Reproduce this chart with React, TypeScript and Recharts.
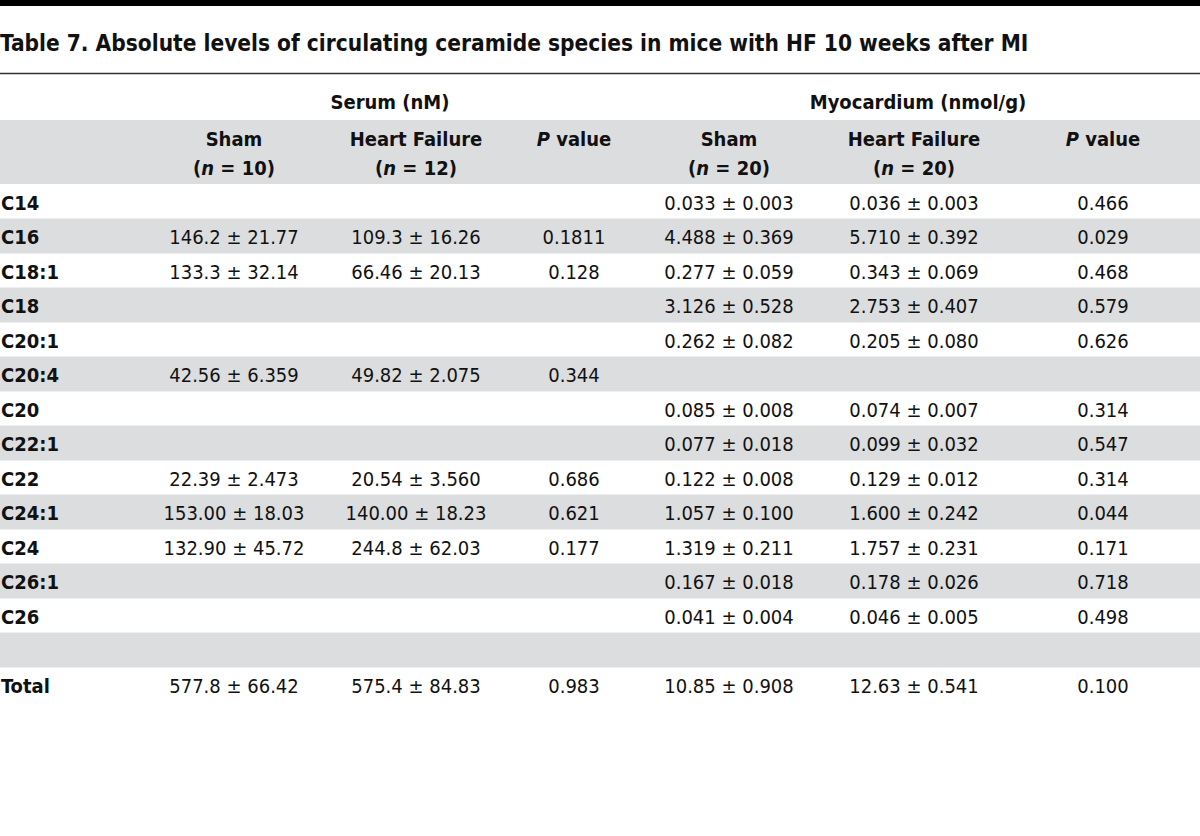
import { BarChart, Bar, XAxis, YAxis, Cell, LabelList, Customized } from "recharts"

const FONT = "'DejaVu Sans Condensed', 'Liberation Sans Narrow', Roboto, sans-serif"
const GRAY = "#dcdddf"
const INK = "#111111"

// row labels (blank row sits between C26 and Total)
const species = ["C14", "C16", "C18:1", "C18", "C20:1", "C20:4", "C20", "C22:1", "C22", "C24:1", "C24", "C26:1", "C26", "", "Total"]

// serum (nM)
const serumSham = ["", "146.2 ± 21.77", "133.3 ± 32.14", "", "", "42.56 ± 6.359", "", "", "22.39 ± 2.473", "153.00 ± 18.03", "132.90 ± 45.72", "", "", "", "577.8 ± 66.42"]
const serumHF = ["", "109.3 ± 16.26", "66.46 ± 20.13", "", "", "49.82 ± 2.075", "", "", "20.54 ± 3.560", "140.00 ± 18.23", "244.8 ± 62.03", "", "", "", "575.4 ± 84.83"]
const serumP = ["", "0.1811", "0.128", "", "", "0.344", "", "", "0.686", "0.621", "0.177", "", "", "", "0.983"]

// myocardium (nmol/g)
const myoSham = ["0.033 ± 0.003", "4.488 ± 0.369", "0.277 ± 0.059", "3.126 ± 0.528", "0.262 ± 0.082", "", "0.085 ± 0.008", "0.077 ± 0.018", "0.122 ± 0.008", "1.057 ± 0.100", "1.319 ± 0.211", "0.167 ± 0.018", "0.041 ± 0.004", "", "10.85 ± 0.908"]
const myoHF = ["0.036 ± 0.003", "5.710 ± 0.392", "0.343 ± 0.069", "2.753 ± 0.407", "0.205 ± 0.080", "", "0.074 ± 0.007", "0.099 ± 0.032", "0.129 ± 0.012", "1.600 ± 0.242", "1.757 ± 0.231", "0.178 ± 0.026", "0.046 ± 0.005", "", "12.63 ± 0.541"]
const myoP = ["0.466", "0.029", "0.468", "0.579", "0.626", "", "0.314", "0.547", "0.314", "0.044", "0.171", "0.718", "0.498", "", "0.100"]

const data = species.map((s, i) => ({
  id: `r${i}`,
  species: s,
  span: 1200,
  serumSham: serumSham[i],
  serumHF: serumHF[i],
  serumP: serumP[i],
  myoSham: myoSham[i],
  myoHF: myoHF[i],
  myoP: myoP[i]
}))

// column centres
const COLS = {
  serumSham: 234,
  serumHF: 416,
  serumP: 574,
  myoSham: 729,
  myoHF: 914,
  myoP: 1103
}

const cellText = (cx: number, anchor: "middle" | "start" = "middle", bold = false) => (props: any) => {
  const { value } = props
  if (!value) return null
  const y = props.y ?? props.viewBox?.y
  const h = props.height ?? props.viewBox?.height
  return (
    <text x={cx} y={y + h / 2 + 1} textAnchor={anchor} dominantBaseline="central"
      fontFamily={FONT} fontSize={20} fontWeight={bold ? "bold" : "normal"} fill={INK}>
      {value}
    </text>
  )
}

const Header = () => {
  const bold = { fontFamily: FONT, fontSize: 20, fontWeight: "bold", fill: INK, textAnchor: "middle" as const, dominantBaseline: "central" as const }
  return (
    <g>
      <rect x={0} y={0} width={1200} height={6} fill="#000" />
      <text x={0} y={43} dominantBaseline="central" fontFamily={FONT} fontSize={22.5} fontWeight="bold" fill={INK}>
        Table 7. Absolute levels of circulating ceramide species in mice with HF 10 weeks after MI
      </text>
      <line x1={0} x2={1200} y1={73.5} y2={73.5} stroke="#333" strokeWidth={1.5} />
      <text x={390} y={102} {...bold}>Serum (nM)</text>
      <text x={918} y={102} {...bold}>Myocardium (nmol/g)</text>
      <rect x={0} y={120} width={1200} height={64} fill={GRAY} />
      <text x={COLS.serumSham} y={139} {...bold}>Sham</text>
      <text x={COLS.serumSham} y={168} {...bold}>(<tspan fontStyle="italic">n</tspan> = 10)</text>
      <text x={COLS.serumHF} y={139} {...bold}>Heart Failure</text>
      <text x={COLS.serumHF} y={168} {...bold}>(<tspan fontStyle="italic">n</tspan> = 12)</text>
      <text x={COLS.serumP} y={139} {...bold}><tspan fontStyle="italic">P</tspan> value</text>
      <text x={COLS.myoSham} y={139} {...bold}>Sham</text>
      <text x={COLS.myoSham} y={168} {...bold}>(<tspan fontStyle="italic">n</tspan> = 20)</text>
      <text x={COLS.myoHF} y={139} {...bold}>Heart Failure</text>
      <text x={COLS.myoHF} y={168} {...bold}>(<tspan fontStyle="italic">n</tspan> = 20)</text>
      <text x={COLS.myoP} y={139} {...bold}><tspan fontStyle="italic">P</tspan> value</text>
    </g>
  )
}

export default function App() {
  return (
    <div style={{ position: "absolute", left: 0, top: 0, background: "#fff" }}>
      <BarChart
        width={1200}
        height={836}
        data={data}
        layout="vertical"
        barCategoryGap={0}
        margin={{ top: 184, right: 0, bottom: 134.5, left: 0 }}
      >
        <XAxis type="number" domain={[0, 1200]} hide />
        <YAxis type="category" dataKey="id" hide />
        <Customized component={Header} />
        <Bar dataKey="span" isAnimationActive={false}>
          {data.map((_, i) => (
            <Cell key={`band-${i}`} fill={i % 2 === 1 ? GRAY : "none"} />
          ))}
          <LabelList dataKey="species" content={cellText(1, "start", true)} />
          <LabelList dataKey="serumSham" content={cellText(COLS.serumSham)} />
          <LabelList dataKey="serumHF" content={cellText(COLS.serumHF)} />
          <LabelList dataKey="serumP" content={cellText(COLS.serumP)} />
          <LabelList dataKey="myoSham" content={cellText(COLS.myoSham)} />
          <LabelList dataKey="myoHF" content={cellText(COLS.myoHF)} />
          <LabelList dataKey="myoP" content={cellText(COLS.myoP)} />
        </Bar>
      </BarChart>
    </div>
  )
}
